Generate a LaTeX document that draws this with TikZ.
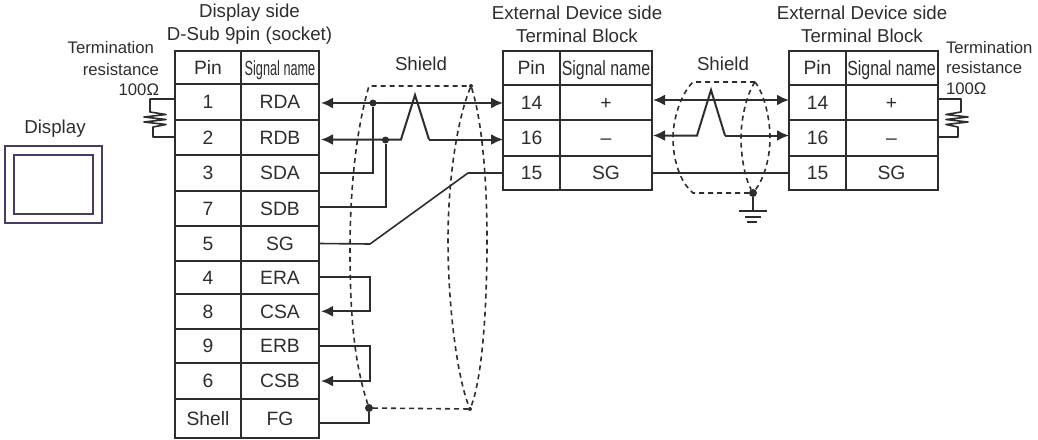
\documentclass[tikz,border=0pt]{standalone}
\usepackage{fontspec}
\setmainfont{Liberation Sans}
\usetikzlibrary{arrows.meta}
\definecolor{myink}{RGB}{45,45,45}
\definecolor{mypurple}{RGB}{74,58,100}
\tikzset{
  noborder/.style={draw=none,inner sep=0,outer sep=0,text=myink,
    font=\fontsize{18.7}{22}\selectfont},
  small/.style={noborder,font=\fontsize{16.7}{20}\selectfont},
  cell/.style={draw=myink,line width=2,inner sep=0,outer sep=0,text=myink,
    text height=13.6,text depth=0,font=\fontsize{19.3}{22}\selectfont},
  pinA/.style={cell,minimum width=66},
  sigA/.style={cell,minimum width=78},
  pinB/.style={cell,minimum width=57},
  sigB/.style={cell,minimum width=92},
  wire/.style={draw=myink,line width=2,line join=miter},
  thin wire/.style={draw=myink,line width=1.6,line join=round},
  shield/.style={draw=myink,line width=1.6,dash pattern=on 5 off 4},
  dot/.style={circle,fill=myink,inner sep=0,minimum size=7,outer sep=0},
  panel/.style={draw=mypurple,fill=white,inner sep=0,outer sep=0}
}
\newcommand{\signame}[1]{\raisebox{-1pt}{\scalebox{#1}[1]{\fontsize{20.5}{22}\selectfont Signal name}}}

\begin{document}
\begin{tikzpicture}[x=1pt,y=-1pt,>={Latex[width=11pt,length=12pt]}]
\useasboundingbox (0,0) rectangle (1038,439);

\node [noborder] (titleA) at (249.5,13) {Display side};
\node [noborder] (titleB) at (249.5,36) {D-Sub 9pin (socket)};
\node [noborder] (titleC) at (577,13) {External Device side};
\node [noborder] (titleD) at (577,36) {Terminal Block};
\node [noborder] (titleE) at (862,13) {External Device side};
\node [noborder] (titleF) at (862,36) {Terminal Block};
\node [noborder] (shieldA) at (421,64) {Shield};
\node [noborder] (shieldB) at (723,64) {Shield};
\node [noborder] (displayname) at (55,129) {Display};

\node [small,anchor=east] (termA) at (154,48) {Termination};
\node [small,anchor=east] (termB) at (159,70) {resistance};
\node [small,anchor=east] (termC) at (159,90) {100Ω};
\node [small,anchor=west] (termD) at (946,48) {Termination};
\node [small,anchor=west] (termE) at (946,68) {resistance};
\node [small,anchor=west] (termF) at (946,89) {100Ω};

\node [panel,line width=2.6,minimum width=97,minimum height=77] (displayout) at (53.5,184.5) {};
\node [panel,line width=2.2,minimum width=79,minimum height=59] (displayin) at (53.5,184.5) {};

\node [pinA,minimum height=32.5] (pinhead) at (208,67.25) {Pin};
\node [sigA,minimum height=32.5] (sighead) at (280,67.25) {\signame{.62}};
\node [pinA,minimum height=36.5] (pinone) at (208,101.75) {1};
\node [sigA,minimum height=36.5] (rda) at (280,101.75) {RDA};
\node [pinA,minimum height=35] (pintwo) at (208,137.5) {2};
\node [sigA,minimum height=35] (rdb) at (280,137.5) {RDB};
\node [pinA,minimum height=36] (pinthree) at (208,173) {3};
\node [sigA,minimum height=36] (sda) at (280,173) {SDA};
\node [pinA,minimum height=35] (pinseven) at (208,208.5) {7};
\node [sigA,minimum height=35] (sdb) at (280,208.5) {SDB};
\node [pinA,minimum height=35] (pinfive) at (208,243.5) {5};
\node [sigA,minimum height=35] (sg) at (280,243.5) {SG};
\node [pinA,minimum height=32.5] (pinfour) at (208,277.25) {4};
\node [sigA,minimum height=32.5] (era) at (280,277.25) {ERA};
\node [pinA,minimum height=35.5] (pineight) at (208,311.25) {8};
\node [sigA,minimum height=35.5] (csa) at (280,311.25) {CSA};
\node [pinA,minimum height=34] (pinnine) at (208,346) {9};
\node [sigA,minimum height=34] (erb) at (280,346) {ERB};
\node [pinA,minimum height=36] (pinsix) at (208,381) {6};
\node [sigA,minimum height=36] (csb) at (280,381) {CSB};
\node [pinA,minimum height=39] (pinshell) at (208,418.5) {Shell};
\node [sigA,minimum height=39] (fg) at (280,418.5) {FG};

\node [pinB,minimum height=34] (pinheadB) at (531.5,68) {Pin};
\node [sigB,minimum height=34] (sigheadB) at (606,68) {\signame{.775}};
\node [pinB,minimum height=35] (pinfourteenB) at (531.5,102.5) {14};
\node [sigB,minimum height=35] (plusB) at (606,102.5) {+};
\node [pinB,minimum height=36] (pinsixteenB) at (531.5,138) {16};
\node [sigB,minimum height=36] (minusB) at (606,138) {–};
\node [pinB,minimum height=34] (pinfifteenB) at (531.5,173) {15};
\node [sigB,minimum height=34] (sgB) at (606,173) {SG};

\node [pinB,minimum height=34] (pinheadC) at (817.5,68) {Pin};
\node [sigB,minimum height=34] (sigheadC) at (891.5,68) {\signame{.775}};
\node [pinB,minimum height=35] (pinfourteenC) at (817.5,102.5) {14};
\node [sigB,minimum height=35] (plusC) at (891.5,102.5) {+};
\node [pinB,minimum height=36] (pinsixteenC) at (817.5,138) {16};
\node [sigB,minimum height=36] (minusC) at (891.5,138) {–};
\node [pinB,minimum height=34] (pinfifteenC) at (817.5,173) {15};
\node [sigB,minimum height=34] (sgC) at (891.5,173) {SG};

\coordinate (resAtop) at (150,99);
\coordinate (resAbot) at (153,137);
\draw[thin wire] (pinone.west |- resAtop) -- (resAtop) -- (150,112) -- (166,114.5) -- (144,117) -- (166,119.5) -- (144,122) -- (166,124.5) -- (153,127) -- (resAbot) -- (pintwo.west |- resAbot);

\coordinate (resBtop) at (961,99);
\coordinate (resBbot) at (958,137);
\draw[thin wire] (plusC.east |- resBtop) -- (resBtop) -- (961,112) -- (946,114.5) -- (968,117) -- (946,119.5) -- (968,122) -- (946,124.5) -- (958,127) -- (resBbot) -- (minusC.east |- resBbot);

\node [dot,minimum size=7] (tapA) at (373,103) {};
\node [dot,minimum size=7] (tapB) at (385.5,140) {};
\coordinate (twistAin) at (401,139.5);
\coordinate (twistApeak) at (415,95);
\coordinate (twistAout) at (429,139.5);
\draw[wire,<->,shorten <=2pt] (rda.east |- tapA) -- (pinfourteenB.west |- tapA);
\draw[wire,<-,shorten <=2pt] (rdb.east |- twistAin) -- (twistAin) -- (twistApeak) -- (twistAout);
\draw[wire,->] (twistAout) -- (pinsixteenB.west |- twistAout);
\draw[wire] (sda.east) -| (tapA);
\draw[wire] (sdb.east |- 0,207) -| (tapB);

\coordinate (bendAin) at (370,244);
\coordinate (bendAout) at (468,173);
\draw[thin wire] (sg.east) -- (bendAin) -- (bendAout) -- (pinfifteenB.west);

\coordinate (loopA) at (370,294);
\coordinate (loopB) at (370,364);
\draw[wire,->,shorten >=2pt] (era.east) -| (loopA) |- (csa.east);
\draw[wire,->,shorten >=2pt] (erb.east) -| (loopB) |- (csb.east);

\coordinate (twistBin) at (697,135.5);
\coordinate (twistBpeak) at (711,90);
\coordinate (twistBout) at (725,135.5);
\coordinate (upperB) at (720,100);
\draw[wire,<->,shorten <=1pt] (plusB.east |- upperB) -- (pinfourteenC.west |- upperB);
\draw[wire,<-,shorten <=1pt] (minusB.east |- twistBin) -- (twistBin) -- (twistBpeak) -- (twistBout);
\draw[wire,->] (twistBout) -- (pinsixteenC.west |- twistBout);
\draw[thin wire] (sgB.east) -- (pinfifteenC.west);

\node [dot,minimum size=8] (shieldleft) at (369,408) {};
\coordinate (fgtap) at (369,423);
\draw[wire] (fg.east |- fgtap) -- (fgtap) -- (shieldleft);
\node [dot,minimum size=4] (lobetop) at (471,86) {};
\node [dot,minimum size=4] (lobebot) at (470,409) {};
\draw[shield] (shieldleft) .. controls (355,365) and (350,320) .. (350,250) .. controls (350,190) and (356,130) .. (369,86) -- (lobetop);
\draw[shield] (shieldleft) -- (lobebot);
\draw[shield] (lobetop) .. controls (482,120) and (487,180) .. (487,240) .. controls (487,310) and (482,380) .. (lobebot);
\draw[shield] (lobetop) .. controls (457,120) and (448,180) .. (448,240) .. controls (448,310) and (458,380) .. (lobebot);

\node [dot,minimum size=8] (shieldright) at (753,193) {};
\coordinate (gndtop) at (753,210.5);
\coordinate (rightup) at (755,82);
\draw[shield] (shieldright) -- (693,193) .. controls (680,182) and (673,160) .. (673,138) .. controls (673,120) and (680,95) .. (693,82) -- (rightup);
\draw[shield] (rightup) .. controls (765,95) and (770,120) .. (770,138) .. controls (770,160) and (763,180) .. (shieldright);
\draw[shield] (rightup) .. controls (746,95) and (741,120) .. (741,138) .. controls (741,160) and (746,180) .. (shieldright);
\draw[wire] (shieldright) -- (gndtop);
\draw[wire] (739,210.5) -- (767,210.5);
\draw[wire] (745,216.5) -- (761,216.5);
\draw[wire] (747,221.5) -- (757,221.5);

\end{tikzpicture}
\end{document}
